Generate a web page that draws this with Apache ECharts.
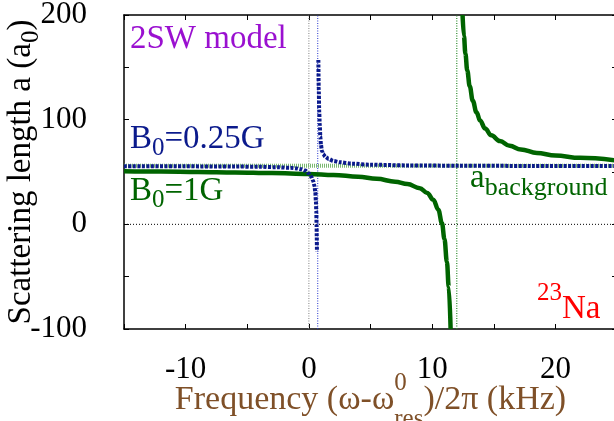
<!DOCTYPE html>
<html><head><meta charset="utf-8">
<script src="https://cdn.jsdelivr.net/npm/echarts@6/dist/echarts.min.js"></script>
<style>html,body{margin:0;padding:0;background:#fff}#c{width:614px;height:421px}</style>
</head><body><div id="c"></div>
<script>
// ---- data ----
const xRange = [-15, 25];
const yRange = [-100, 200];
const xTickLabels = [-10, 0, 10, 20];
const yTickLabels = [-100, 0, 100, 200];
const resonanceZero = 0;        // ω = ω0_res (gray)
const resonanceBlue = 0.72;     // B0 = 0.25 G pole
const resonanceGreen = 12;      // B0 = 1 G pole
const aBackground = 56;
const zeroLevel = 0;

// B0 = 1G (green, solid)
const greenLowX = [-15, -12, -9, -6, -3, 0, 2, 4, 5.5, 7, 8, 9, 9.6, 10.1, 10.5, 10.8, 11.0, 11.2, 11.35, 11.5];
const greenLowA = [50.8, 50.5, 50.1, 49.6, 49.0, 48.2, 47.2, 45.5, 43.5, 40.8, 38.5, 34.5, 30, 23.5, 14, 1, -14, -36, -60, -100];
const greenHighX = [12.47, 12.58, 12.7, 12.85, 13.05, 13.3, 13.6, 13.9, 14.3, 14.8, 15.5, 16.3, 17.2, 18.5, 20, 22, 25];
const greenHighA = [200, 180, 163, 147, 132, 118, 107, 99, 91.5, 85, 79.5, 75, 71.5, 68.2, 65.8, 63.5, 61];

// B0 = 0.25G (blue, dotted)
const blueLowX = [-15, -10, -6, -4, -2.5, -1.5, -1, -0.6, -0.3, 0, 0.2, 0.35, 0.45, 0.52, 0.57, 0.6, 0.625, 0.64, 0.655];
const blueLowA = [55.5, 55.4, 55.2, 55.0, 54.5, 54.0, 53.4, 52.6, 51.4, 48.5, 45.5, 41.5, 37, 31, 22, 13, 0, -12, -26];
const blueHighX = [0.77, 0.8, 0.84, 0.88, 0.93, 0.98, 1.06, 1.16, 1.35, 1.6, 2.0, 2.5, 3.5, 5, 8, 12, 18, 25];
const blueHighA = [157, 130, 108, 96, 84, 76, 70, 67, 64.5, 62.5, 60.5, 59.3, 58, 57, 56.3, 56, 55.8, 55.7];

// ---- chart ----
const FF = '"Liberation Serif", "Times New Roman", serif';
const zip = (xs, ys) => xs.map((x, i) => [x, ys[i]]);
const GREEN = '#006400', BLUE = '#0b1a8c';

function refLine(points, color, width, dash) {
  return { type: 'line', data: points, showSymbol: false, silent: true,
    lineStyle: { color: color, width: width, type: dash }, animation: false };
}

const chart = echarts.init(document.getElementById('c'), null, { renderer: 'canvas' });

const axisCommonX = { type: 'value', min: xRange[0], max: xRange[1], interval: 5,
  axisLine: { onZero: false, lineStyle: { color: '#000', width: 1.5 } },
  axisTick: { inside: true, length: 5, lineStyle: { color: '#000', width: 1 } },
  splitLine: { show: false } };
const axisCommonY = { type: 'value', min: yRange[0], max: yRange[1], interval: 50,
  axisLine: { onZero: false, lineStyle: { color: '#000', width: 1.5 } },
  axisTick: { inside: true, length: 5, lineStyle: { color: '#000', width: 1 } },
  splitLine: { show: false } };

const brown = '#7f5028';
function rt(size, color, pad, extra) {
  return Object.assign({ fontSize: size, fontFamily: FF, color: color, fill: color, verticalAlign: 'top', padding: pad }, extra || {});
}
chart.setOption({
  animation: false,
  backgroundColor: '#fff',
  grid: { left: 124, top: 15, right: -3, bottom: 92, containLabel: false, outerBoundsMode: 'none' },
  xAxis: [
    Object.assign({}, axisCommonX, { position: 'bottom',
      axisLabel: { formatter: v => xTickLabels.includes(v) ? String(v) : '', fontFamily: FF, fontSize: 31, color: '#000', margin: 25 },
      name: '{m|Frequency (ω-ω}{p|0}{b|res}{m|)/2π (kHz)}',
      nameLocation: 'middle', nameGap: 42, nameMoveOverlap: false,
      nameTextStyle: { color: brown, fontFamily: FF, rich: {
        m: rt(34, brown, [12, 0, 0, 0]),
        p: rt(25, brown, [0, -12.5, 0, 0]),
        b: rt(25, brown, [36, 0, 0, 0])
      } } }),
    Object.assign({}, axisCommonX, { position: 'top', axisLabel: { show: false } })
  ],
  yAxis: [
    Object.assign({}, axisCommonY, { position: 'left',
      axisLabel: { formatter: v => yTickLabels.includes(v) ? String(v) : '', fontFamily: FF, fontSize: 31, color: '#000', margin: 37 },
      name: '{m|Scattering length a (a}{b|0}{m|)}',
      nameLocation: 'middle', nameGap: 80, nameMoveOverlap: false,
      nameTextStyle: { color: '#000', fontFamily: FF, rich: {
        m: rt(33, '#000', [0, 0, 0, 0]),
        b: rt(25, '#000', [13.7, 0, 0, 0])
      } } }),
    Object.assign({}, axisCommonY, { position: 'right', axisLabel: { show: false } })
  ],
  series: [
    refLine([[xRange[0], zeroLevel], [xRange[1], zeroLevel]], '#000', 1, [1, 2]),
    refLine([[resonanceZero, yRange[0]], [resonanceZero, yRange[1]]], '#808080', 1, [1, 1.5]),
    refLine([[resonanceBlue, yRange[0]], [resonanceBlue, yRange[1]]], '#2233cc', 1, [1, 1.5]),
    refLine([[resonanceGreen, yRange[0]], [resonanceGreen, yRange[1]]], '#2a8a2a', 1.2, [1, 1.5]),
    refLine([[xRange[0], aBackground], [xRange[1], aBackground]], '#7ab870', 4, [1, 1]),
    { type: 'line', data: zip(greenLowX, greenLowA), showSymbol: false, smooth: 0.4, smoothMonotone: 'x',
      lineStyle: { color: GREEN, width: 4.5 } },
    { type: 'line', data: zip(greenHighX, greenHighA), showSymbol: false, smooth: 0.4, smoothMonotone: 'x',
      lineStyle: { color: GREEN, width: 4.5 } },
    { type: 'line', data: zip(blueLowX, blueLowA), showSymbol: false, smooth: 0.3, smoothMonotone: 'x',
      lineStyle: { color: BLUE, width: 4, type: [3, 1.5] } },
    { type: 'line', data: zip(blueHighX, blueHighA), showSymbol: false, smooth: 0.3, smoothMonotone: 'x',
      lineStyle: { color: BLUE, width: 4, type: [3, 1.5] } }
  ],
  graphic: [
    { type: 'text', x: 130, y: 22.4, z: 10, style: { text: '{m|2SW model}', rich: { m: rt(33, '#9a10d0', [0, 0, 0, 0]) } } },
    { type: 'text', x: 130, y: 122.4, z: 10, style: { text: '{m|B}{b|0}{m|=0.25G}', rich: {
        m: rt(33, BLUE, [0, 0, 0, 0]), b: rt(25, BLUE, [13.4, 0, 0, 0]) } } },
    { type: 'text', x: 130, y: 174.4, z: 10, style: { text: '{m|B}{b|0}{m|=1G}', rich: {
        m: rt(33, GREEN, [0, 0, 0, 0]), b: rt(25, GREEN, [13.4, 0, 0, 0]) } } },
    { type: 'text', x: 470, y: 161.7, z: 10, style: { text: '{m|a}{b|background}', rich: {
        m: rt(33, GREEN, [0, 0, 0, 0]), b: rt(26, GREEN, [13.2, 0, 0, 0]) } } },
    { type: 'text', x: 537, y: 280.8, z: 10, style: { text: '{p|23}{m|Na}', rich: {
        m: rt(33, '#ff0000', [11.6, 0, 0, 0]), p: rt(25, '#ff0000', [0, 0, 0, 0]) } } }
  ]
});
</script>
</body></html>
